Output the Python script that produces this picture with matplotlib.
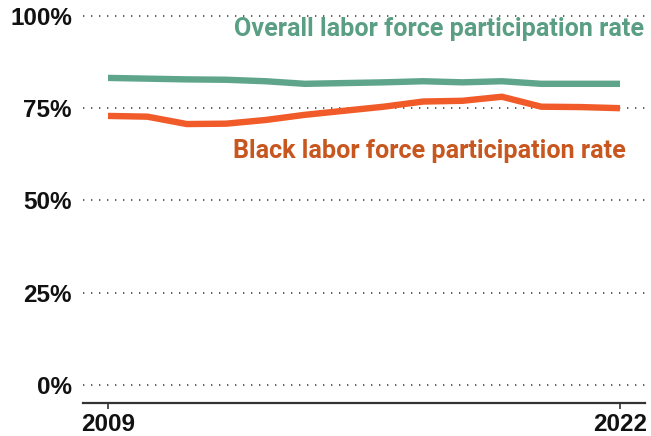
import matplotlib
matplotlib.use("Agg")
import matplotlib.pyplot as plt
from matplotlib import font_manager

years = list(range(2009, 2023))
overall = [83.2, 83.0, 82.8, 82.7, 82.3, 81.6, 81.8, 82.0, 82.3, 82.0, 82.3, 81.6, 81.6, 81.6]
black = [72.9, 72.7, 70.7, 70.8, 71.8, 73.2, 74.3, 75.4, 76.8, 77.0, 78.1, 75.4, 75.3, 75.0]
yticks = [0, 25, 50, 75, 100]
ytick_labels = ["0%", "25%", "50%", "75%", "100%"]
xticks = [2009, 2022]

green_line = "#5fa58b"
green_text = "#5a9e84"
red_line = "#f15a29"
red_text = "#c8561f"

names = {f.name for f in font_manager.fontManager.ttflist}
tick_font = "Liberation Sans Narrow" if "Liberation Sans Narrow" in names else "Liberation Sans"

fig = plt.figure(figsize=(6.51, 4.36), dpi=100)
ax = fig.add_axes([83 / 651, (436 - 403) / 436, (645 - 83) / 651, (403 - 10) / 436])

for y in yticks:
    ax.axhline(y, color="#444444", lw=1.2, linestyle=(0, (0.8, 4)), zorder=1)

ax.plot(years, overall, color=green_line, lw=4.6, solid_capstyle="butt", zorder=3)
ax.plot(years, black, color=red_line, lw=4.6, solid_capstyle="butt", zorder=3)

ax.set_xlim(2008.365, 2022.635)
ax.set_ylim(-4.88, 101.6)

for s in ["top", "right", "left"]:
    ax.spines[s].set_visible(False)
ax.spines["bottom"].set_color("#333333")
ax.spines["bottom"].set_linewidth(1.6)

ax.set_yticks(yticks)
ax.set_yticklabels(ytick_labels)
ax.tick_params(axis="y", length=0, pad=8)
ax.set_xticks(xticks)
ax.set_xticklabels([str(x) for x in xticks])
ax.tick_params(axis="x", length=4, width=1.2, color="#333333", pad=3)
for lab in ax.get_yticklabels() + ax.get_xticklabels():
    lab.set_fontfamily(tick_font)
    lab.set_fontweight("bold")
    lab.set_fontsize(17.5)
    lab.set_color("#111111")

fig.text(234 / 651, 1 - 29 / 436, "Overall labor force participation rate",
         ha="left", va="center", color=green_text, fontsize=18.1,
         fontweight="bold", family="Roboto")
fig.text(233 / 651, 1 - 151 / 436, "Black labor force participation rate",
         ha="left", va="center", color=red_text, fontsize=18.1,
         fontweight="bold", family="Roboto")

fig.savefig("out.png", dpi=100)
